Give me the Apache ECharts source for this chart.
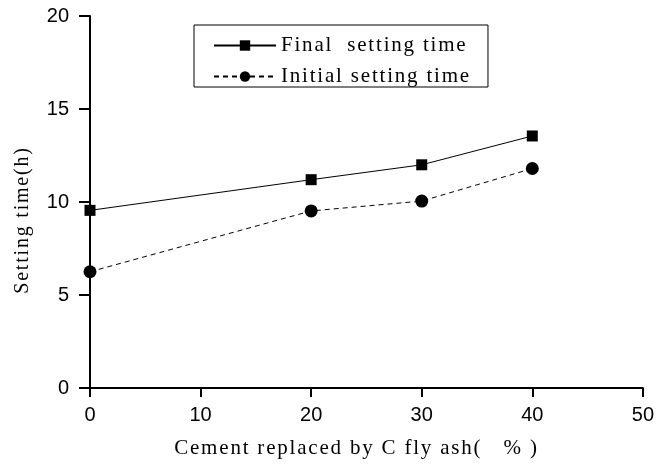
<!DOCTYPE html>
<html><head><meta charset="utf-8">
<script src="https://cdn.jsdelivr.net/npm/echarts@6/dist/echarts.min.js"></script>
<style>
html,body{margin:0;padding:0;background:#fff}
#c{width:657px;height:464px}
</style>
</head><body><div id="c"></div>
<script>
var xValues = [0, 20, 30, 40];
var finalSetting = [9.55, 11.2, 12.0, 13.55];
var initialSetting = [6.25, 9.52, 10.05, 11.8];
var seriesNames = ['Final  setting time', 'Initial setting time'];
var xTicks = [0, 10, 20, 30, 40, 50];
var yTicks = [0, 5, 10, 15, 20];

function pairs(xs, ys){ return xs.map(function(x,i){return [x, ys[i]];}); }

// letter spacing for the serif titles/legend text
(function(){
  var P = CanvasRenderingContext2D.prototype, f = P.fillText;
  P.fillText = function(t, x, y, m){
    var font = this.font || '';
    var ls = (/serif/i.test(font) && !/sans/i.test(font)) ? '1.8px' : '0px';
    var old = this.letterSpacing;
    if (old !== undefined) this.letterSpacing = ls;
    var r = (m === undefined) ? f.call(this, t, x, y) : f.call(this, t, x, y, m);
    if (old !== undefined) this.letterSpacing = old;
    return r;
  };
})();

var chart = echarts.init(document.getElementById('c'), null, {renderer:'canvas'});
var SERIF = 'Times New Roman, serif';
var SANS = 'Arial';
var axisFont = {fontFamily:SANS, fontSize:20, color:'#000'};
chart.setOption({
  animation:false,
  backgroundColor:'#fff',
  grid:{left:90, right:12, top:16, bottom:74, containLabel:false},
  legend:{
    orient:'vertical', left:194, top:25,
    itemWidth:62, itemHeight:13, itemGap:10,
    padding:[10,53,0,19],
    borderColor:'#000', borderWidth:1,
    textStyle:{fontFamily:SERIF, fontSize:21, lineHeight:21, color:'#000'},
    data:seriesNames
  },
  xAxis:{
    type:'value', min:0, max:50, interval:10,
    name:'Cement replaced by C fly ash(   % )', nameLocation:'middle', nameGap:50,
    nameTextStyle:{fontFamily:SERIF, fontSize:21, color:'#000', padding:[0,20,0,0]},
    axisLine:{lineStyle:{color:'#000', width:2}},
    axisTick:{inside:false, length:9, lineStyle:{color:'#000', width:2}},
    axisLabel:Object.assign({margin:17}, axisFont),
    splitLine:{show:false}
  },
  yAxis:{
    type:'value', min:0, max:20, interval:5,
    name:'Setting time(h)', nameLocation:'middle', nameGap:57,
    nameTextStyle:{fontFamily:SERIF, fontSize:20, color:'#000', padding:[0,36,0,0]},
    axisLine:{show:true, lineStyle:{color:'#000', width:2}},
    axisTick:{show:true, inside:false, length:11, lineStyle:{color:'#000', width:2}},
    axisLabel:Object.assign({margin:21}, axisFont),
    splitLine:{show:false}
  },
  series:[
    {name:seriesNames[0], type:'line', data:pairs(xValues, finalSetting),
     symbol:'rect', symbolSize:11,
     itemStyle:{color:'#000'}, lineStyle:{color:'#000', width:1, type:'solid'}},
    {name:seriesNames[1], type:'line', data:pairs(xValues, initialSetting),
     symbol:'circle', symbolSize:13,
     itemStyle:{color:'#000'}, lineStyle:{color:'#000', width:1, type:[5,4]}}
  ]
});
</script></body></html>
